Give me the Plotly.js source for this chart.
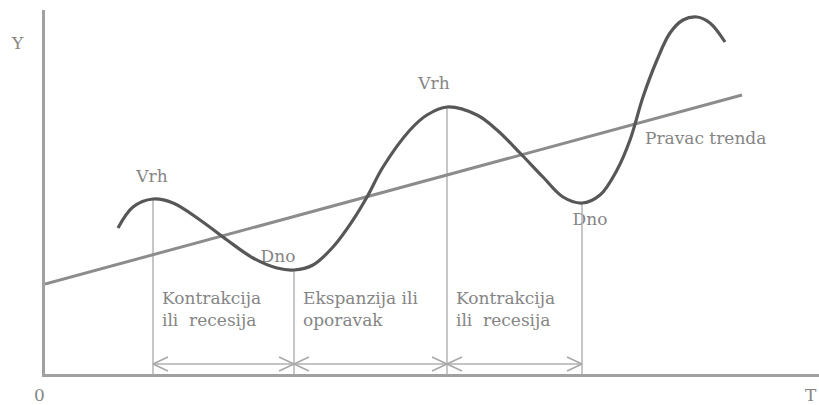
<!DOCTYPE html>
<html>
<head>
<meta charset="utf-8">
<script src="https://cdn.plot.ly/plotly-3.0.1.min.js"></script>
<style>html,body{margin:0;padding:0;background:#fff;}#chart{width:819px;height:405px;}</style>
</head>
<body>
<div id="chart"></div>
<script>
// Business cycle curve
const cycleX = [73,88,108,128,155,182,208,232,249,268,288,308,322,338,365,382,402,432,452,475,498,518,537,555,572,585,598,612,625,638,652,665,680];
const cycleY = [146,167,175,171,154,134,116,106,104,109,127,154,177,207,244,259,267,259,244,221,197,177,171,179,204,234,277,314,341,354,357,351,332];
// Trend line
const trendX = [0, 697];
const trendY = [90, 279];
// Turning points (peaks and troughs)
const turnX = [108, 249, 402, 537];
const turnY = [175, 104, 267, 171];
const turnLabels = ["Vrh", "Dno", "Vrh", "Dno"];
// Phase labels between turning points
const phaseLabels = ["Kontrakcija<br>ili  recesija", "Ekspanzija ili<br>oporavak", "Kontrakcija<br>ili  recesija"];
const trendLabel = "Pravac trenda";
const axisLabels = {origin: "0", y: "Y", x: "T"};

const textColor = "#858585";
const mkFont = () => ({family: "DejaVu Serif", size: 17, color: textColor});

const traces = [];

// text labels drawn first so lines overlay them (as in the scan)
const lblPos = [[-1, 21], [-16, 12], [-13, 22], [8, -18]];
traces.push({
  x: turnX.map((v, i) => v + lblPos[i][0]),
  y: turnY.map((v, i) => v + lblPos[i][1]),
  text: turnLabels,
  mode: "text",
  textposition: "middle center",
  textfont: mkFont(),
  hoverinfo: "skip",
  showlegend: false
});
traces.push({
  x: turnX.slice(0, 3).map(v => v + 9),
  y: turnX.slice(0, 3).map(() => 63),
  text: phaseLabels,
  mode: "text",
  textposition: "middle right",
  textfont: mkFont(),
  hoverinfo: "skip",
  showlegend: false
});
traces.push({
  x: [trendX[1] - 97],
  y: [trendY[0] + (trendY[1] - trendY[0]) * 0.865 - 19],
  text: [trendLabel],
  mode: "text",
  textposition: "middle right",
  textfont: mkFont(),
  hoverinfo: "skip",
  showlegend: false
});

// vertical lines from the axis up to each turning point
turnX.forEach((xv, i) => {
  traces.push({
    x: [xv, xv], y: [0, turnY[i]], mode: "lines",
    line: {color: "#b4b4b4", width: 1.5}, hoverinfo: "skip", showlegend: false
  });
});

// double-headed arrows between consecutive turning points
const arrowY = 10;
for (let i = 0; i < turnX.length - 1; i++) {
  const a = turnX[i], b = turnX[i + 1];
  traces.push({
    x: [a, b], y: [arrowY, arrowY], mode: "lines",
    line: {color: "#b0b0b0", width: 1.5}, hoverinfo: "skip", showlegend: false
  });
  traces.push({
    x: [a + 15, a, a + 15, null, b - 15, b, b - 15],
    y: [arrowY + 7, arrowY, arrowY - 7, null, arrowY + 7, arrowY, arrowY - 7],
    mode: "lines", line: {color: "#a8a8a8", width: 1.5},
    hoverinfo: "skip", showlegend: false
  });
}

// trend line
traces.push({
  x: trendX, y: trendY, mode: "lines",
  line: {color: "#8c8c8c", width: 3}, hoverinfo: "skip", showlegend: false
});
// cycle curve
traces.push({
  x: cycleX, y: cycleY, mode: "lines",
  line: {color: "#575757", width: 3.2, shape: "spline", smoothing: 1},
  hoverinfo: "skip", showlegend: false
});

const layout = {
  width: 819, height: 405,
  margin: {l: 45, r: 0, t: 10, b: 31, pad: 0},
  paper_bgcolor: "#ffffff", plot_bgcolor: "#ffffff",
  showlegend: false,
  font: {family: "DejaVu Serif", color: textColor},
  xaxis: {range: [0, 774], showgrid: false, zeroline: false, showticklabels: false, ticks: "",
          showline: true, linecolor: "#a0a0a0", linewidth: 3, fixedrange: true},
  yaxis: {range: [0, 364], showgrid: false, zeroline: false, showticklabels: false, ticks: "",
          showline: true, linecolor: "#a0a0a0", linewidth: 3, fixedrange: true},
  annotations: [
    {text: axisLabels.origin, xref: "paper", yref: "paper", x: -0.007, y: -0.058, showarrow: false,
     font: mkFont(), xanchor: "center", yanchor: "middle"},
    {text: axisLabels.y, xref: "paper", yref: "paper", x: -0.035, y: 0.908, showarrow: false,
     font: mkFont(), xanchor: "center", yanchor: "middle"},
    {text: axisLabels.x, xref: "paper", yref: "paper", x: 0.99, y: -0.058, showarrow: false,
     font: mkFont(), xanchor: "center", yanchor: "middle"}
  ]
};

Plotly.newPlot("chart", traces, layout, {displayModeBar: false, staticPlot: true});
</script>
</body>
</html>
